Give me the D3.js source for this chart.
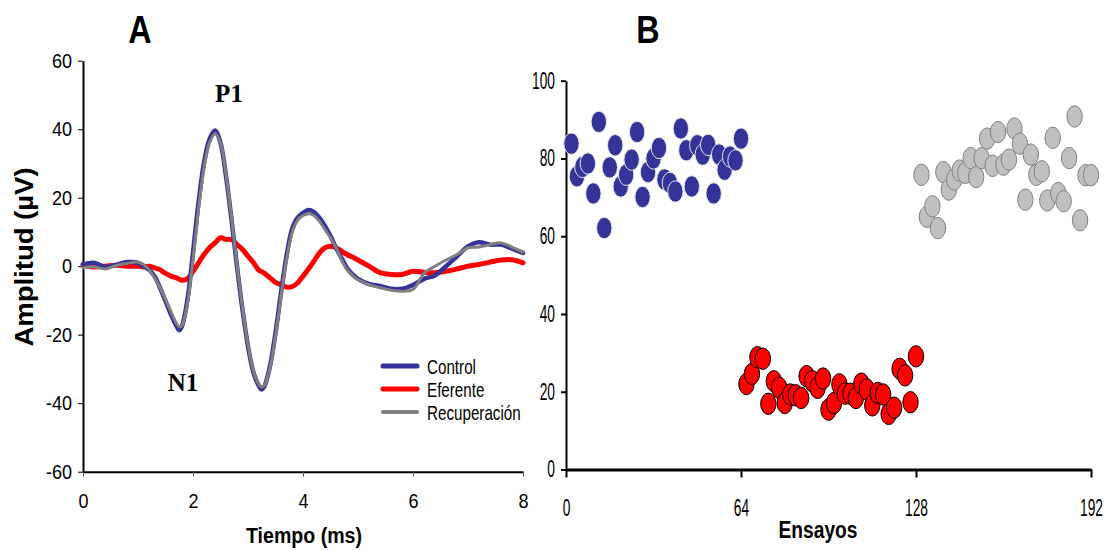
<!DOCTYPE html>
<html>
<head>
<meta charset="utf-8">
<script src="https://cdn.jsdelivr.net/npm/d3@7"></script>
<style>
  html, body { margin: 0; padding: 0; background: #ffffff; }
  svg { display: block; }
  text { font-family: "Liberation Sans", Arial, sans-serif; fill: #000; }
</style>
</head>
<body>
<svg id="chart" width="1107" height="550"></svg>
<script>
// ---------- Panel A data (time in ms, amplitude in µV) ----------
const tiempo = [0,0.2,0.4,0.6,0.8,1.0,1.1,1.2,1.3,1.4,1.5,1.6,1.7,1.75,1.8,1.9,2.0,2.1,2.2,2.3,2.4,2.5,2.6,2.7,2.8,2.9,3.0,3.1,3.2,3.25,3.3,3.4,3.5,3.6,3.7,3.8,3.9,4.0,4.1,4.2,4.3,4.4,4.5,4.6,4.7,4.8,4.9,5.0,5.2,5.4,5.6,5.8,6.0,6.2,6.4,6.6,6.8,7.0,7.2,7.4,7.6,7.8,8.0];
const control = [0.5,1.0,-0.2,0.4,1.2,1.0,0,-1,-2.9,-6.3,-10.2,-14.1,-17.5,-18.7,-17.5,-9.7,3.9,18.5,30.2,37,39.6,36,26.3,13.6,0,-12.7,-23.4,-31.1,-35,-36,-35,-29.2,-19.5,-7.8,2.9,10.7,14.1,15.6,16.4,15.8,14.1,11.7,8.8,5.4,2.4,-0.5,-2.4,-3.7,-5.2,-5.8,-6.6,-6.6,-5.5,-3.7,-2.7,0,2.9,5.8,7.0,6.3,6.3,5.1,3.9];
const eferente = [0.5,-0.2,0,0.3,0,0,-0.2,0,-0.5,-1,-2.1,-2.9,-3.4,-3.8,-4.1,-3.7,-1.5,1,3.4,5.4,6.8,8.3,7.8,7.8,6.3,4.9,2.9,1,-1.2,-1.6,-2.1,-3.4,-4.7,-5.4,-6.1,-6.0,-4.9,-2.9,-0.8,1.5,3.9,5.4,5.8,5.4,4.4,3.4,2.7,1.8,0,-1.9,-2.4,-2.4,-1.5,-1.8,-1.9,-1.5,-0.8,0,0.5,1.2,1.8,1.9,1.0];
const recuperacion = [-0.5,-0.2,-0.8,0.2,0.8,1.2,0.5,-1,-3.4,-6.3,-9.7,-13.4,-16.7,-17.7,-17.3,-10.7,1.9,16.5,28.7,36,38.7,36,26.8,14.1,0.5,-12.2,-22.9,-30.7,-34.5,-35.3,-34.8,-29.7,-20.4,-8.8,1.9,9.7,13.4,14.8,15.3,14.8,13.1,10.7,8.3,5.4,1.9,-1,-2.7,-3.9,-5.4,-6.3,-7,-7.3,-6.8,-2.1,0,1.8,3.4,5.4,5.6,6.3,6.8,5.6,4.1];
const seriesNamesA = ["Control", "Eferente", "Recuperación"];
const ticksAx = [0, 2, 4, 6, 8];
const ticksAy = [-60, -40, -20, 0, 20, 40, 60];

// ---------- Panel B data (trial number, value) ----------
const ensayosControl = [2,4,6,8,10,12,14,16,18,20,22,24,26,28,30,32,34,36,38,40,42,44,46,48,50,52,54,56,58,60,62,64];
const valoresControl = [83.8,75.4,77.8,78.7,71,89.4,62.1,77.7,83.4,72.8,75.8,79.7,86.8,70.1,76.5,80,82.7,74.6,73.7,71.5,87.7,82.1,72.8,83.4,81,83.5,71,81,77.1,80.5,79.5,85.1];
const ensayosEferente = [66,68,70,72,74,76,78,80,82,84,86,88,90,92,94,96,98,100,102,104,106,108,110,112,114,116,118,120,122,124,126,128];
const valoresEferente = [22,24.6,28.9,28.5,16.9,22.7,21,17.1,19.3,19.1,18.4,24,22.7,21,23.4,15.4,17.1,21.9,19.5,19.5,18.4,22.1,20.6,16.5,19.7,19.3,14.3,15.9,25.9,24.2,17.3,29.1];
const ensayosRecuperacion = [130,132,134,136,138,140,142,144,146,148,150,152,154,156,158,160,162,164,166,168,170,172,174,176,178,180,182,184,186,188,190,192];
const valoresRecuperacion = [75.8,65,67.7,62.1,76.5,72,74.6,76.9,76.3,80.1,75.2,80.1,85.1,78.1,86.8,78.4,79.7,87.7,83.8,69.4,81,75.8,76.7,69.2,85.3,71.1,69,80.1,90.8,64.1,75.7,75.7];
const ticksBx = [0, 64, 128, 192];
const ticksBy = [0, 20, 40, 60, 80, 100];

// ---------- Helpers ----------
const svg = d3.select("#chart");

function label(txt, x, y, opts) {
  const o = Object.assign({size: 20, weight: "normal", sx: 1, sy: 1, rot: 0, anchor: "middle", family: null}, opts || {});
  const t = svg.append("text")
    .attr("transform", `translate(${x},${y}) rotate(${o.rot}) scale(${o.sx},${o.sy})`)
    .attr("text-anchor", o.anchor)
    .style("font-size", o.size + "px")
    .style("font-weight", o.weight)
    .text(txt);
  if (o.family) t.style("font-family", o.family);
  return t;
}

// ---------- Panel A ----------
const xA = d3.scaleLinear().domain([0, 8]).range([83, 523]);
const yA = d3.scaleLinear().domain([-60, 60]).range([471.7, 60.7]);

const gAy = svg.append("g").attr("transform", `translate(${xA(0)},0)`)
  .call(d3.axisLeft(yA).tickValues(ticksAy).tickSize(5).tickSizeOuter(0).tickFormat(d => String(d)));
gAy.select(".domain").attr("stroke", "#000").attr("stroke-width", 2);
gAy.selectAll(".tick line").attr("stroke", "#000").attr("stroke-width", 1);
gAy.selectAll(".tick text").attr("font-size", null).attr("font-family", null)
  .style("font-size", "21px").attr("x", -11 / 0.86).attr("transform", "scale(0.86,1)");

const gAx = svg.append("g").attr("transform", `translate(0,${yA(-60)})`)
  .call(d3.axisBottom(xA).tickValues(ticksAx).tickSize(5).tickSizeOuter(0).tickPadding(17).tickFormat(d => String(d)));
gAx.select(".domain").attr("stroke", "#000").attr("stroke-width", 2);
gAx.selectAll(".tick line").attr("stroke", "#555").attr("stroke-width", 1);
gAx.selectAll(".tick text").attr("font-size", null).attr("font-family", null)
  .style("font-size", "20px").attr("transform", "scale(0.9,1)");

const lineA = d3.line().x((d, i) => xA(tiempo[i])).y(d => yA(d)).curve(d3.curveCatmullRom.alpha(0.5));
const seriesA = [
  {name: seriesNamesA[1], values: eferente, color: "#ff0000", width: 5},
  {name: seriesNamesA[0], values: control, color: "#333399", width: 4.5},
  {name: seriesNamesA[2], values: recuperacion, color: "#808080", width: 3}
];
seriesA.forEach(s => {
  svg.append("path").datum(s.values)
    .attr("d", lineA)
    .attr("fill", "none")
    .attr("stroke", s.color)
    .attr("stroke-width", s.width)
    .attr("stroke-linejoin", "round")
    .attr("stroke-linecap", "round");
});

// Legend
const legendItems = [
  {name: seriesNamesA[0], color: "#333399", width: 5},
  {name: seriesNamesA[1], color: "#ff0000", width: 5},
  {name: seriesNamesA[2], color: "#808080", width: 4}
];
legendItems.forEach((it, i) => {
  const ly = 366 + i * 23;
  svg.append("line").attr("x1", 383).attr("x2", 417).attr("y1", ly).attr("y2", ly)
    .attr("stroke", it.color).attr("stroke-width", it.width).attr("stroke-linecap", "round");
  label(it.name, 427, ly + 7.5, {size: 20, sx: 0.76, anchor: "start"});
});

// Panel A texts
label("A", 140, 43, {size: 39, weight: "bold", sx: 0.83});
label("P1", 229, 102, {size: 25, weight: "bold", family: "'Liberation Serif', 'Times New Roman', serif"});
label("N1", 183, 391, {size: 25, weight: "bold", family: "'Liberation Serif', 'Times New Roman', serif"});
label("Tiempo (ms)", 304, 543, {size: 22, weight: "bold", sx: 0.89});
label("Amplitud (µV)", 33, 257, {size: 25, weight: "bold", rot: -90, sx: 1.1});

// ---------- Panel B ----------
const xB = d3.scaleLinear().domain([0, 192]).range([566, 1091]);
const yB = d3.scaleLinear().domain([0, 100]).range([469.5, 80.7]);

const gBy = svg.append("g").attr("transform", `translate(${xB(0)},0)`)
  .call(d3.axisLeft(yB).tickValues(ticksBy).tickSize(5).tickSizeOuter(0).tickFormat(d => String(d)));
gBy.select(".domain").attr("stroke", "#000").attr("stroke-width", 2);
gBy.selectAll(".tick line").attr("stroke", "#000").attr("stroke-width", 2);
gBy.selectAll(".tick text").attr("font-size", null).attr("font-family", null)
  .style("font-size", "23px").attr("x", -11 / 0.6).attr("transform", "scale(0.6,1)");

const gBx = svg.append("g").attr("transform", `translate(0,${yB(0)})`)
  .call(d3.axisBottom(xB).tickValues(ticksBx).tickSize(8).tickSizeOuter(0).tickPadding(22).tickFormat(d => String(d)));
gBx.select(".domain").attr("stroke", "#000").attr("stroke-width", 3);
gBx.selectAll(".tick line").attr("stroke", "#000").attr("stroke-width", 2);
gBx.selectAll(".tick text").attr("font-size", null).attr("font-family", null)
  .style("font-size", "23px").attr("transform", "scale(0.6,1)");

const groupsB = [
  {xs: ensayosControl, ys: valoresControl, fill: "#333399", stroke: "#e6e6e6"},
  {xs: ensayosEferente, ys: valoresEferente, fill: "#ff0000", stroke: "#000000"},
  {xs: ensayosRecuperacion, ys: valoresRecuperacion, fill: "#c0c0c0", stroke: "#808080"}
];
groupsB.forEach(g => {
  svg.append("g").selectAll("ellipse")
    .data(g.xs.map((x, i) => ({x: x, y: g.ys[i]})))
    .join("ellipse")
    .attr("cx", d => xB(d.x))
    .attr("cy", d => yB(d.y))
    .attr("rx", 7.7)
    .attr("ry", 10.7)
    .attr("fill", g.fill)
    .attr("stroke", g.stroke)
    .attr("stroke-width", 1);
});

label("B", 648, 43, {size: 39, weight: "bold", sx: 0.83});
label("Ensayos", 818, 538, {size: 23, weight: "bold", sx: 0.835});
</script>
</body>
</html>
